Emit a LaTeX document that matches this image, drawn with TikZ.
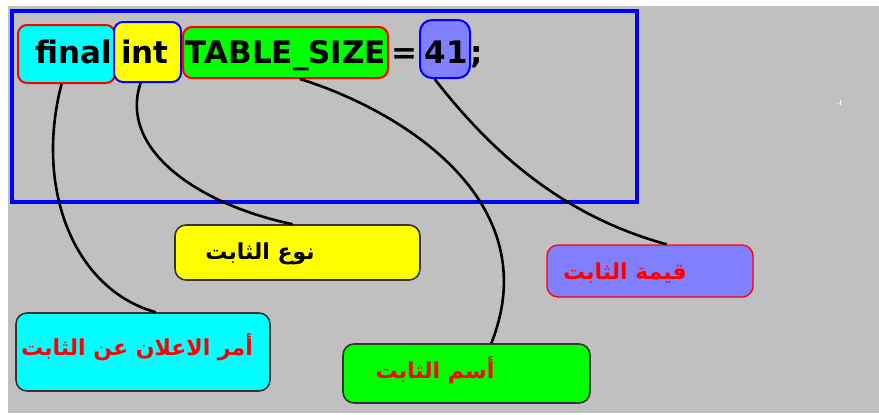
\documentclass[tikz,border=0pt]{standalone}
\usepackage{fontspec}
\setmainfont{DejaVu Sans}
\newfontfamily\arabicfont[Script=Arabic]{DejaVu Sans}
\TeXXeTstate=1
\usetikzlibrary{calc}
\definecolor{bggray}{HTML}{C0C0C0}
\definecolor{violetbox}{HTML}{8080FF}
\definecolor{boxcyan}{HTML}{00FFFF}
\definecolor{boxyellow}{HTML}{FFFF00}
\definecolor{boxgreen}{HTML}{00FF00}
\definecolor{boxred}{HTML}{FF0000}
\definecolor{boxblue}{HTML}{0000FF}
\tikzset{
  codebox/.style={rounded corners=9pt, line width=2pt, inner sep=0pt},
  codetxt/.style={inner sep=0pt, anchor=base, font=\fontsize{31}{31}\selectfont\bfseries},
  labelbox/.style={rounded corners=11pt, line width=1.6pt, inner sep=0pt, draw=black!80},
  labeltxt/.style={inner sep=0pt, font=\arabicfont\fontsize{22}{22}\selectfont\bfseries},
  conn/.style={line width=2.6pt, black},
}
\begin{document}
\begin{tikzpicture}[x=1pt,y=-1pt]
\useasboundingbox (0,0) rectangle (879,415);
\fill[white] (0,0) rectangle (879,415);
\fill[bggray] (8,6) rectangle (879,413);
% frame
\draw[boxblue, line width=4pt] (12,11) rectangle (637,202);
% code boxes
\node[codebox, draw=boxred, fill=boxcyan, minimum width=97pt, minimum height=58pt] (final) at (66.5,54) {};
\node[codebox, draw=boxblue, fill=boxyellow, minimum width=67pt, minimum height=60pt] (int) at (147.5,52) {};
\node[codebox, draw=boxred, fill=boxgreen, minimum width=205pt, minimum height=51pt] (tsize) at (285.5,52.5) {};
\node[codebox, draw=boxblue, fill=violetbox, minimum width=50pt, minimum height=58pt, rounded corners=12pt] (val) at (445,49) {};
\node[codetxt] (tfinal) at (74,63) {final};
\node[codetxt] (tint) at (145,63) {int};
\node[codetxt] (ttsize) at (286,63) {TABLE\_SIZE};
\node[codetxt] (teq) at (404,63) {=};
\node[codetxt] (tval) at (446,63) {41};
\node[codetxt] (tsemi) at (477,63) {;};
% label boxes
\node[labelbox, fill=boxyellow, minimum width=245pt, minimum height=55pt] (ltype) at (297.5,252.5) {};
\node[labelbox, fill=boxcyan, minimum width=254pt, minimum height=78pt] (ldecl) at (143,352) {};
\node[labelbox, fill=boxgreen, minimum width=247pt, minimum height=59pt] (lname) at (466.5,373.5) {};
\node[labelbox, draw=boxred, line width=1.3pt, fill=violetbox, minimum width=206pt, minimum height=52pt] (lval) at (650,271) {};
\node[labeltxt, text=black] (ttype) at (260,254) {\beginR نوع الثابت\endR};
\node[labeltxt, text=boxred] (tdecl) at (137,347) {\beginR أمر الاعلان عن الثابت\endR};
\node[labeltxt, text=boxred] (tname) at (435,370) {\beginR أسم الثابت\endR};
\node[labeltxt, text=boxred] (tvalue) at (625,273) {\beginR قيمة الثابت\endR};
% connectors
\coordinate (c1) at ($(final.south west)!0.45!(final.south east)$);
\coordinate (c2) at ($(int.south west)!0.4!(int.south east)$);
\coordinate (c3) at ($(tsize.south west)!0.57!(tsize.south east)$);
\coordinate (c4) at ($(val.south west)!0.3!(val.south east)$);
\coordinate (e1) at ($(ldecl.north west)!0.55!(ldecl.north east)$);
\coordinate (e2) at ($(ltype.north west)!0.48!(ltype.north east)$);
\coordinate (e3) at ($(lname.north west)!0.6!(lname.north east)$);
\coordinate (e4) at ($(lval.north west)!0.58!(lval.north east)$);
\draw[conn] (c1) .. controls (34,190) and (75,290) .. (e1);
\draw[conn] (c2) .. controls (118,150) and (200,205) .. (e2);
\draw[conn] (c3) .. controls (400,110) and (548,200) .. (e3);
\draw[conn] (c4) .. controls (490,150) and (560,215) .. (e4);
% small white mark
\fill[white] (840,100) rectangle (841.2,105);
\fill[white] (838,103) rectangle (839,104);
\end{tikzpicture}
\end{document}
